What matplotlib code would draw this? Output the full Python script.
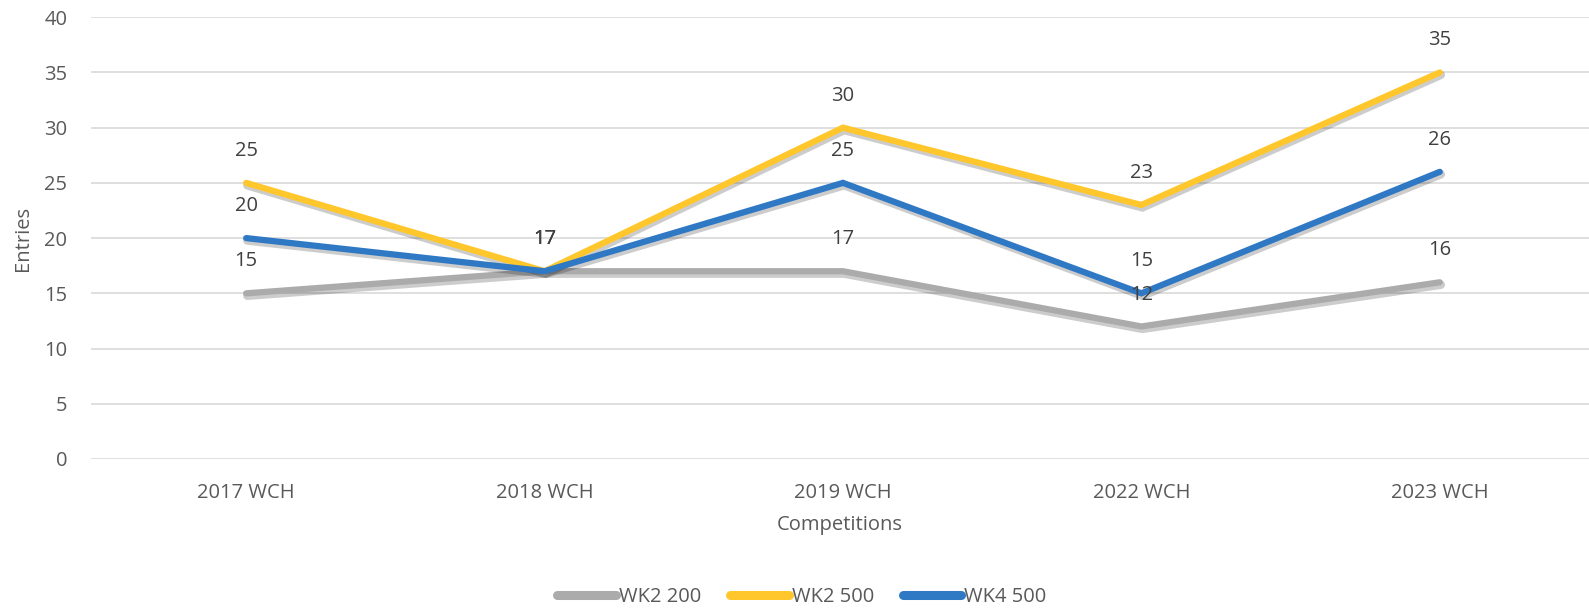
import matplotlib
matplotlib.use("Agg")
import matplotlib.pyplot as plt
import matplotlib.patheffects as pe

categories = ["2017 WCH", "2018 WCH", "2019 WCH", "2022 WCH", "2023 WCH"]
wk2_200 = [15, 17, 17, 12, 16]
wk2_500 = [25, 17, 30, 23, 35]
wk4_500 = [20, 17, 25, 15, 26]
series_names = ["WK2 200", "WK2 500", "WK4 500"]
yticks = [0, 5, 10, 15, 20, 25, 30, 35, 40]

colors = ["#ABABAB", "#FFC72C", "#2F78C4"]
plt.rcParams['font.family'] = ['Open Sans', 'DejaVu Sans']

W, H = 1589, 608
fig = plt.figure(figsize=(W / 100, H / 100), dpi=100)
left, right = 91, 1589
top, bottom = 17.2, 459
ax = fig.add_axes([left / W, 1 - bottom / H, (right - left) / W, (bottom - top) / H])

x = list(range(len(categories)))
shadow = [pe.SimpleLineShadow(offset=(0.8, -1.8), shadow_color="black", alpha=0.2, linewidth=6), pe.Normal()]
for vals, name, c in zip([wk2_200, wk2_500, wk4_500], series_names, colors):
    ax.plot(x, vals, color=c, lw=4.5, solid_capstyle="round", solid_joinstyle="miter",
            label=name, path_effects=shadow, zorder=3)
    for xi, v in zip(x, vals):
        ax.annotate(str(v), (xi, v), xytext=(0, 23), textcoords="offset points",
                    ha="center", va="center", fontsize=14.5, color="#404040", zorder=5)

ax.set_ylim(0, 40)
ax.set_xlim(-0.52, 4.5)
ax.set_yticks(yticks)
ax.set_xticks(x)
ax.set_xticklabels(categories)
ax.grid(axis="y", color="#D9D9D9", lw=1.2)
ax.set_axisbelow(True)
for s in ax.spines.values():
    s.set_visible(False)
ax.tick_params(axis="both", length=0, labelsize=14.5, labelcolor="#595959")
ax.tick_params(axis="y", pad=17)
ax.tick_params(axis="x", pad=17)

ax.set_ylabel("Entries", fontsize=14.5, color="#595959", labelpad=8)
ax.set_xlabel("Competitions", fontsize=14.5, color="#595959", labelpad=9)

leg = fig.legend(loc="center", bbox_to_anchor=(802 / W, 1 - 597 / H), ncol=3, frameon=False,
                 fontsize=14.5, handlelength=2.9, handletextpad=0.15, columnspacing=1.45,
                 labelcolor="#595959")
for ln in leg.get_lines():
    ln.set_linewidth(6.5)
    ln.set_solid_capstyle("round")
    ln.set_path_effects([])

fig.savefig("out.png", dpi=100)
